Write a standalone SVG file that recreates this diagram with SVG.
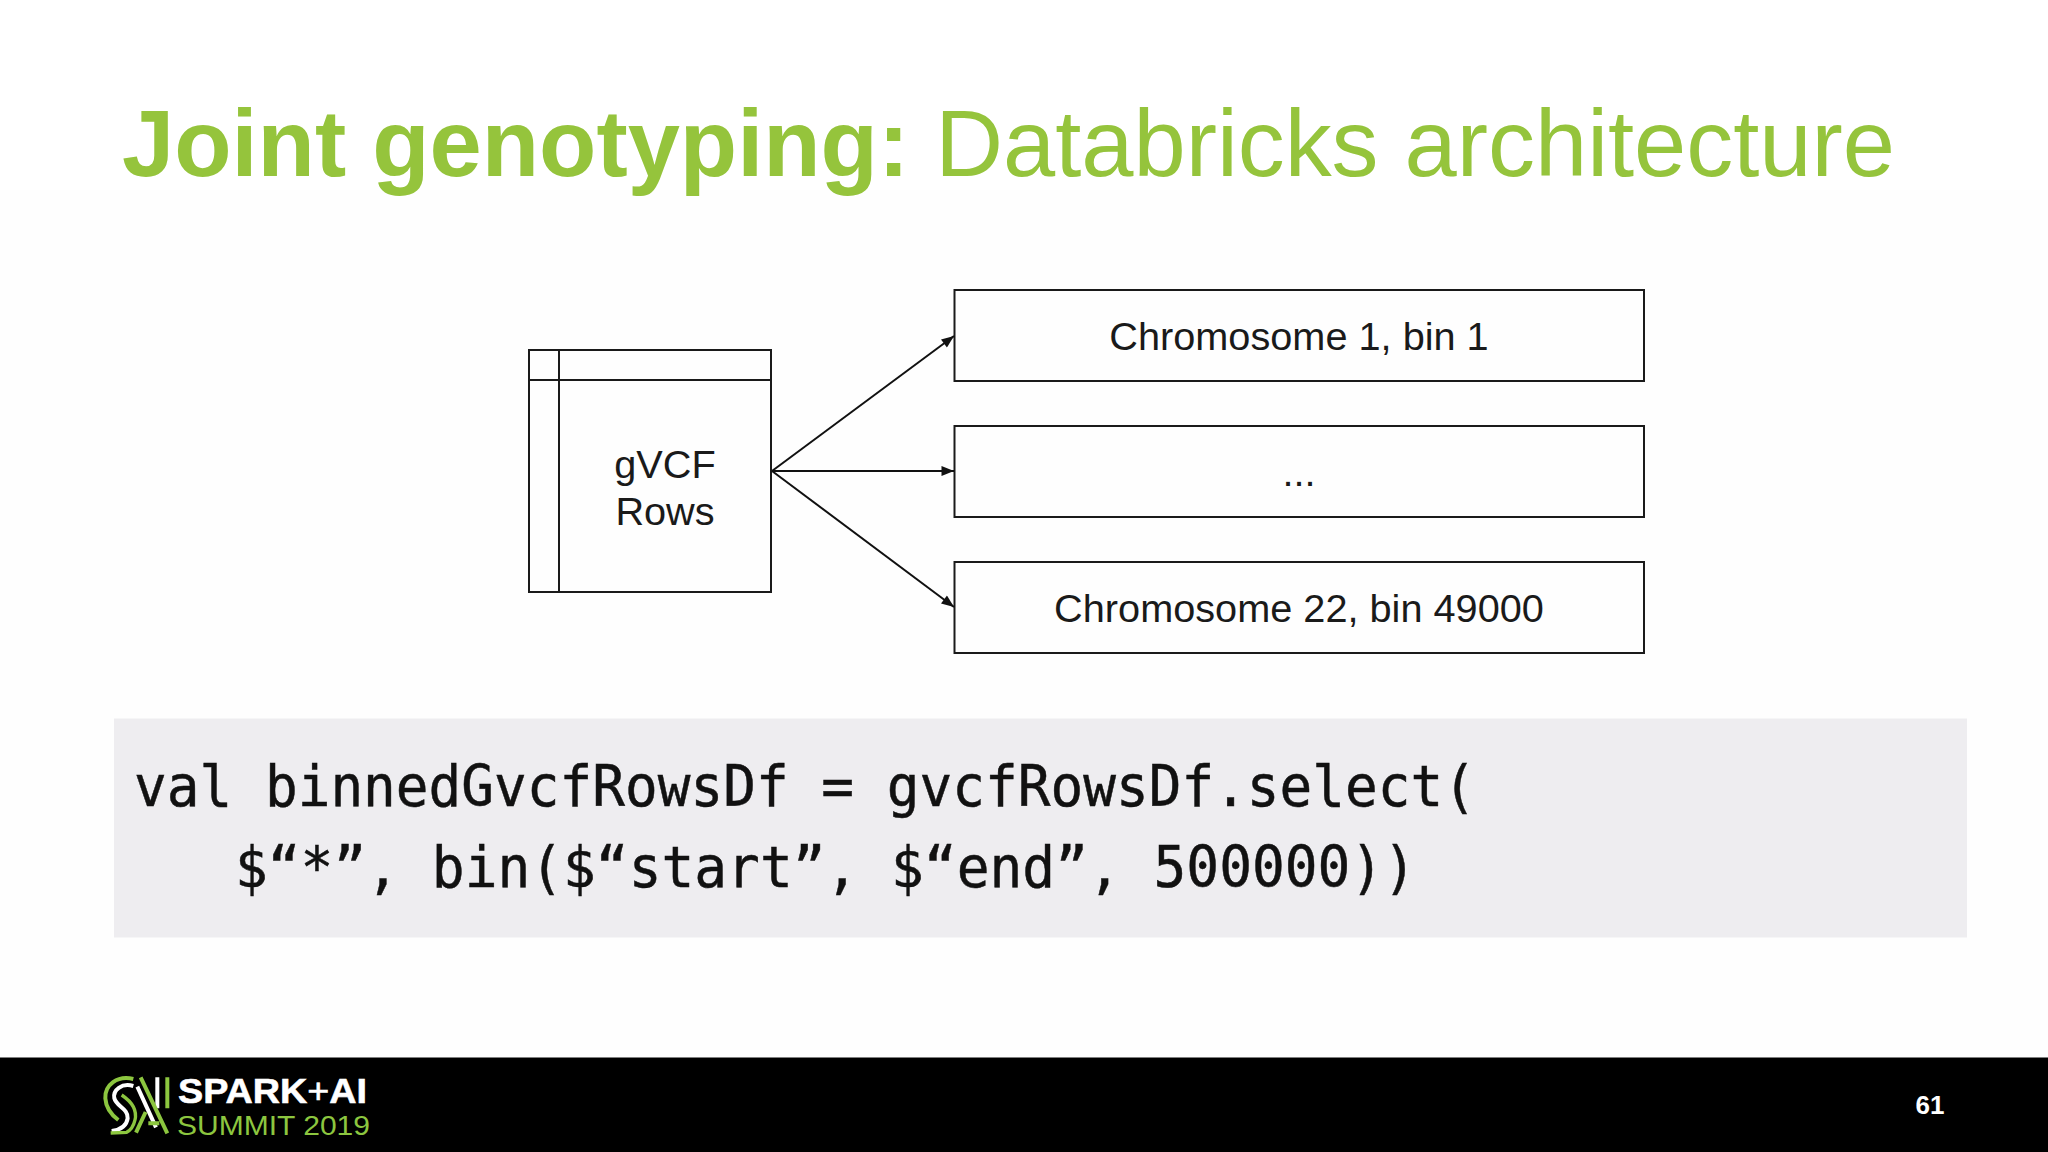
<svg xmlns="http://www.w3.org/2000/svg" width="2048" height="1152" viewBox="0 0 2048 1152">
<style>
.box{fill:#fefefe;stroke:#1a1a1a;stroke-width:2}
.lbl{font-family:"Liberation Sans",Arial,sans-serif;font-size:39.7px;fill:#1a1a1a;text-anchor:middle}
.code{font-family:"DejaVu Sans Mono",monospace;font-size:56.5px;fill:#111;stroke:#111;stroke-width:.5}
.edge{stroke:#111;stroke-width:2;fill:none;marker-end:url(#arr)}
.title{font-family:"Liberation Sans",Arial,sans-serif;font-size:93.85px;fill:#95c43c}
</style>
<defs><marker id="arr" viewBox="0 0 10 8" refX="10" refY="4" markerWidth="14" markerHeight="10" markerUnits="userSpaceOnUse" orient="auto"><path d="M0 0L10 4L0 8Z" fill="#111"/></marker></defs>
<rect width="2048" height="1152" fill="#fefefe"/>
<rect x="0" y="0" width="2048" height="190" fill="#fff"/>
<text id="title" class="title" x="122" y="176"><tspan font-weight="700">Joint genotyping:</tspan> Databricks architecture</text>
<g id="gvcf"><rect class="box" x="529" y="350" width="242" height="242"/><path d="M559 350V592M529 380H771" fill="none" stroke="#1a1a1a" stroke-width="2"/><text class="lbl" x="665" y="478">gVCF</text><text class="lbl" x="665" y="525">Rows</text></g>
<g id="bin1"><rect class="box" x="954.500" y="290" width="689.500" height="91"/><text class="lbl" x="1299" y="350">Chromosome 1, bin 1</text></g>
<g id="binmid"><rect class="box" x="954.500" y="426" width="689.500" height="91"/><text class="lbl" x="1299" y="486">...</text></g>
<g id="bin22"><rect class="box" x="954.500" y="562" width="689.500" height="91"/><text class="lbl" x="1299" y="622">Chromosome 22, bin 49000</text></g>
<g id="connectors"><path class="edge" d="M772 471L954 336"/><path class="edge" d="M772 471H954"/><path class="edge" d="M772 471L954 607"/></g>
<g id="code"><rect x="114" y="718.500" width="1853" height="219" fill="#eeedf0"/>
<text class="code" x="134" y="806" textLength="1342" lengthAdjust="spacingAndGlyphs">val binnedGvcfRowsDf = gvcfRowsDf.select(</text>
<text class="code" x="235" y="887" textLength="1181" lengthAdjust="spacingAndGlyphs">$“*”, bin($“start”, $“end”, 500000))</text></g>
<g id="footer"><rect y="1057.500" width="2048" height="95" fill="#000"/>
<g id="logo" fill="none" stroke-width="12" transform="translate(80 1040) scale(.3333)">
<path d="M160 117C112 105 74 135 76 175C78 205 95 225 115 240" stroke="#8cc63f"/>
<path d="M160 138C125 128 98 150 103 175C109 200 145 205 143 235C140 258 120 270 95 273" stroke="#fff"/>
<path d="M125 165C155 185 172 210 165 240C160 262 150 272 140 277L92 279" stroke="#8cc63f" stroke-width="10"/>
<path d="M172 140L228 262M232 112V205" stroke="#fff"/>
<path d="M182 112L262 280M262 112V205M168 278L197 216M205 250H238" stroke="#8cc63f"/>
</g>
<text x="178" y="1103" font-family="Liberation Sans,sans-serif" font-weight="700" font-size="35" fill="#fff" stroke="#fff" stroke-width=".6" textLength="189" lengthAdjust="spacingAndGlyphs">SPARK<tspan font-weight="400">+</tspan>AI</text>
<text x="177" y="1135" font-family="Liberation Sans,sans-serif" font-size="27" fill="#8cc63f" textLength="193" lengthAdjust="spacingAndGlyphs">SUMMIT 2019</text>
<text x="1930" y="1114" text-anchor="middle" font-family="Liberation Sans,sans-serif" font-weight="700" font-size="26" fill="#fff">61</text></g>
</svg>
